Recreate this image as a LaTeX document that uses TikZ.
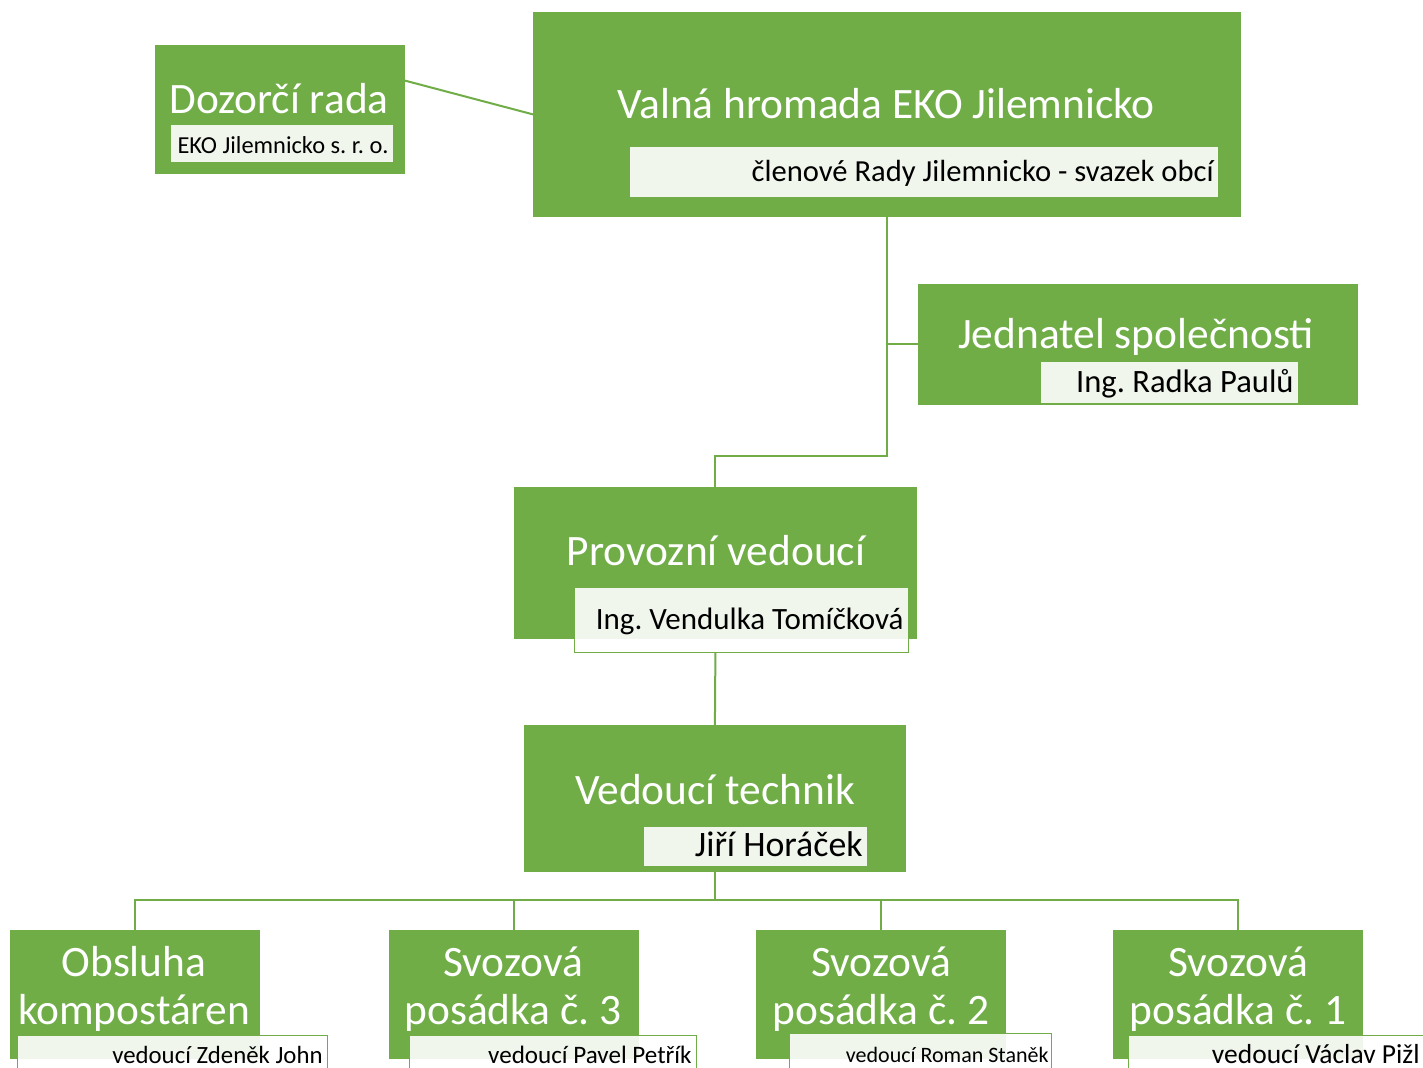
\documentclass[tikz,border=0pt]{standalone}
\usepackage{fontspec}
\setmainfont{Carlito}
\usetikzlibrary{calc}
\frenchspacing
\definecolor{ekogreen}{HTML}{70AD47}
\tikzset{
  unit/.style={fill=ekogreen,draw=ekogreen,anchor=north west,inner sep=0pt},
  head/.style={text=white,font=\fontsize{21.7}{24}\selectfont},
  tag/.style={fill=white,fill opacity=.9,draw=ekogreen,line width=.5pt,anchor=north west,inner sep=0pt},
  who/.style={anchor=east,yshift=-2pt,inner xsep=2.5pt,inner ysep=0pt,text height=1.5ex,text depth=.25ex},
  link/.style={draw=ekogreen,line width=1pt}
}
\begin{document}
\begin{tikzpicture}[x=0.5pt,y=-0.5pt]
\useasboundingbox[fill=white] (0,0) rectangle (1423,1068);
% vedeni
\node[unit,minimum width=124.5pt,minimum height=64pt] (dozor) at (155,45) {};
\node[head,anchor=base] (dozorHead) at (279,114) {Dozorčí rada};
\node[tag,minimum width=111.5pt,minimum height=19pt] (dozorTag) at (170,124) {};
\node[who,font=\fontsize{12.2}{14}\selectfont] (dozorWho) at (dozorTag.east) {EKO Jilemnicko s. r. o.};
\node[unit,minimum width=353.5pt,minimum height=102pt] (valna) at (533,12) {};
\node[head,anchor=base] (valnaHead) at (886,119) {Valná hromada EKO Jilemnicko};
\node[tag,minimum width=294.5pt,minimum height=25.5pt] (valnaTag) at (629,146) {};
\node[who,font=\fontsize{15.3}{18}\selectfont] (valnaWho) at (valnaTag.east) {členové Rady Jilemnicko - svazek obcí};
\node[unit,minimum width=219.5pt,minimum height=60pt] (jednatel) at (918,284) {};
\node[head,anchor=base] (jednatelHead) at (1136,349) {Jednatel společnosti};
\node[tag,minimum width=129pt,minimum height=21pt] (jednatelTag) at (1040,361) {};
\node[who,font=\fontsize{16.3}{18}\selectfont] (jednatelWho) at (jednatelTag.east) {Ing. Radka Paulů};
% provoz
\node[unit,minimum width=201pt,minimum height=75.5pt] (provoz) at (514,487) {};
\node[head,anchor=base] (provozHead) at (716,566) {Provozní vedoucí};
\node[tag,minimum width=167pt,minimum height=32.5pt] (provozTag) at (574,587) {};
\node[who,font=\fontsize{15.5}{18}\selectfont] (provozWho) at (provozTag.east) {Ing. Vendulka Tomíčková};
\node[unit,minimum width=190.5pt,minimum height=73pt] (technik) at (524,725) {};
\node[head,anchor=base] (technikHead) at (715,804) {Vedoucí technik};
\node[tag,minimum width=112pt,minimum height=20pt] (technikTag) at (643,826) {};
\node[who,font=\fontsize{17.9}{20}\selectfont] (technikWho) at (technikTag.east) {Jiří Horáček};
% posadky
\node[unit,minimum width=124.5pt,minimum height=64pt] (obsluha) at (10,930) {};
\node[head,align=center] (obsluhaHead) at (134,989) {Obsluha\\kompostáren};
\node[tag,minimum width=155pt,minimum height=18.5pt] (obsluhaTag) at (17,1035) {};
\node[who,font=\fontsize{12.4}{14}\selectfont] (obsluhaWho) at (obsluhaTag.east) {vedoucí Zdeněk John};
\node[unit,minimum width=124.5pt,minimum height=64pt] (posadka3) at (389,930) {};
\node[head,align=center] (posadka3Head) at (513,989) {Svozová\\posádka č. 3};
\node[tag,minimum width=143.5pt,minimum height=18.5pt] (posadka3Tag) at (409,1035) {};
\node[who,font=\fontsize{12.55}{14}\selectfont] (posadka3Who) at (posadka3Tag.east) {vedoucí Pavel Petřík};
\node[unit,minimum width=124.5pt,minimum height=64pt] (posadka2) at (756,930) {};
\node[head,align=center] (posadka2Head) at (881,989) {Svozová\\posádka č. 2};
\node[tag,minimum width=131pt,minimum height=19.5pt] (posadka2Tag) at (789,1033) {};
\node[who,inner xsep=1.5pt,font=\fontsize{11}{13}\selectfont] (posadka2Who) at (posadka2Tag.east) {vedoucí Roman Staněk};
\node[unit,minimum width=124.5pt,minimum height=64pt] (posadka1) at (1113,930) {};
\node[head,align=center] (posadka1Head) at (1238,989) {Svozová\\posádka č. 1};
\node[tag,minimum width=147.5pt,minimum height=18.5pt] (posadka1Tag) at (1128,1035) {};
\node[who,inner xsep=2pt,font=\fontsize{13.75}{16}\selectfont] (posadka1Who) at (posadka1Tag.east) {vedoucí Václav Pižl};
% spoje
\draw[link] (dozor.13) -- (valna.west);
\draw[link] (valna.south) -- ++(0,239) -| (provoz.north);
\draw[link] (jednatel.west) -- (jednatel.west -| valna.south);
\draw[link] (provoz.south |- provozTag.south) -- (technik.north);
\coordinate (bus) at ($(technik.south)+(0,28)$);
\draw[link] (technik.south) -- (bus);
\foreach \c in {obsluha,posadka3,posadka2,posadka1}
  \draw[link] (\c.north) |- (bus);
\end{tikzpicture}
\end{document}
